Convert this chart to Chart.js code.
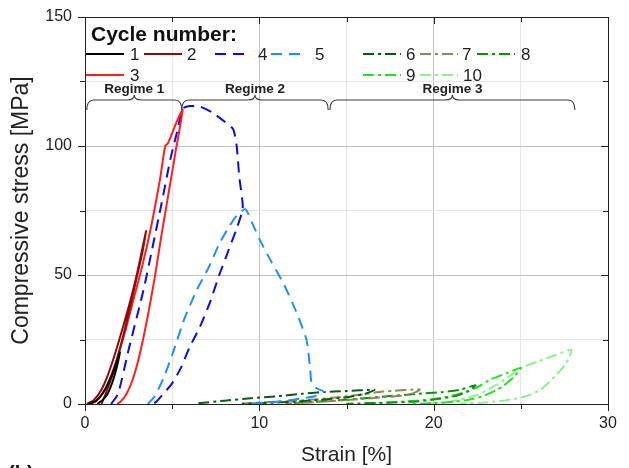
<!DOCTYPE html>
<html><head><meta charset="utf-8">
<script src="https://cdn.jsdelivr.net/npm/chart.js@4.4.0/dist/chart.umd.min.js"></script>
<style>html,body{margin:0;padding:0;background:#fff;}#wrap{width:629px;height:468px;position:relative;}</style>
</head><body><div id="wrap"><canvas id="c" width="629" height="468"></canvas></div>
<script>
// ---------- data ----------
const cycleLabels = ['1','2','3','4','5','6','7','8','9','10'];
const legendTitle = 'Cycle number:';
const xTitle = 'Strain [%]';
const yTitle = 'Compressive stress [MPa]';
const xMajorTicks = [0, 10, 20, 30];
const yMajorTicks = [0, 50, 100, 150];
const regimeNames = ['Regime 1', 'Regime 2', 'Regime 3'];
const regimeStart = [0.1, 5.55, 14.05];
const regimeEnd = [5.55, 13.95, 28.1];
const panelLabel = '(b)';

const c1Strain = [0.2, 0.6, 1.0, 1.4, 1.7, 2.0, 1.85, 1.6, 1.3, 1.0, 0.7];
const c1Stress = [0, 1, 4, 9, 14, 20, 15, 9, 4, 1.5, 0];

const c2Strain = [0.1, 0.5, 0.9, 1.3, 1.7, 2.1, 2.6, 3.0, 3.5, 3.3, 2.9, 2.5, 2.1, 1.7, 1.3, 0.95];
const c2Stress = [0, 1.5, 5, 11, 19, 28, 40, 51, 67, 59, 47, 35, 24, 14, 6, 0];

const c3Strain = [0.3, 0.7, 1.1, 1.5, 1.9, 2.3, 2.8, 3.3, 3.8, 4.3, 4.6, 4.75, 5.0, 5.3, 5.6, 5.2, 4.8, 4.4, 4.0, 3.6, 3.2, 2.9, 2.6, 2.3, 2.05, 1.85];
const c3Stress = [0, 1.5, 5, 11, 19, 28, 41, 54, 69, 87, 100, 101, 105, 110, 114, 98, 82, 66, 49, 34, 21, 13, 7, 3, 1, 0];

const c4Strain = [1.5, 1.9, 2.5, 3.35, 3.85, 4.4, 4.9, 5.3, 5.6, 6.0, 6.6, 7.3, 8.0, 8.5, 8.7, 8.85, 9.05, 8.7, 8.2, 7.7, 7.2, 6.6, 6.0, 5.5, 5.0, 4.5, 4.1, 3.9];
const c4Stress = [0, 4, 21, 44, 60, 78, 95, 106, 114.5, 115.5, 115.3, 113, 109.5, 106.5, 100, 88, 76, 68, 59, 50, 40, 30, 22, 14, 8, 4, 1, 0];

const c5Strain = [3.6, 4.0, 4.5, 5.0, 5.7, 6.4, 7.1, 7.7, 8.2, 8.7, 9.2, 9.6, 10.0, 10.7, 11.4, 12.1, 12.7, 12.9, 13.0, 13.3, 13.7, 13.2, 12.4, 11.5, 10.5, 9.5];
const c5Stress = [0, 3, 10, 19, 33, 44, 53, 62, 68, 73, 75.5, 70, 64, 55, 46.5, 36, 25, 15, 8, 6, 4.8, 3, 2.2, 1.2, 0.6, 0.2];

const c6Strain = [6.5, 8.0, 9.5, 11.0, 12.5, 13.5, 15.0, 16.6, 16.0, 15.0, 13.5, 12.0, 10.5, 9.0];
const c6Stress = [0.3, 1.3, 2.2, 3.0, 4.0, 4.6, 5.0, 5.5, 3.8, 2.6, 1.6, 0.9, 0.4, 0.1];

const c7Strain = [9.0, 11.0, 12.9, 14.8, 17.1, 19.2, 18.6, 17.5, 16.0, 14.5, 13.0, 11.5];
const c7Stress = [0.2, 0.9, 1.6, 2.8, 4.8, 5.6, 3.6, 2.8, 2.0, 1.3, 0.6, 0.2];

const c8Strain = [12.0, 14.5, 17.0, 19.0, 20.5, 21.5, 22.4, 22.0, 21.3, 20.3, 19.0, 17.0, 15.0];
const c8Stress = [0.4, 1.4, 2.8, 3.9, 4.6, 5.5, 7.3, 5.0, 3.2, 2.0, 1.0, 0.4, 0.1];

const c9Strain = [16.0, 18.0, 19.5, 20.4, 21.5, 22.5, 23.2, 24.2, 25.0, 24.6, 24.0, 23.6, 22.8, 22.0, 21.3, 20.0, 18.5];
const c9Stress = [0.2, 0.8, 1.6, 2.3, 4.0, 6.5, 9.3, 12.0, 14.0, 10.5, 7.0, 5.4, 3.0, 1.6, 1.0, 0.3, 0];

const c10Strain = [19.5, 21.0, 22.5, 23.5, 24.3, 25.0, 26.0, 27.0, 27.9, 27.6, 27.0, 26.1, 25.2, 24.2, 23.0, 21.5];
const c10Stress = [0.2, 1.0, 3.5, 7.0, 10.5, 14.0, 16.5, 19.0, 21.0, 15.8, 11.0, 5.4, 2.8, 1.5, 0.6, 0.2];

// ---------- styling ----------
const strains = [c1Strain, c2Strain, c3Strain, c4Strain, c5Strain, c6Strain, c7Strain, c8Strain, c9Strain, c10Strain];
const stresses = [c1Stress, c2Stress, c3Stress, c4Stress, c5Stress, c6Stress, c7Stress, c8Stress, c9Stress, c10Stress];
const colors = ['#000000', '#8e0b0b', '#ff1f1f', '#0a0aee', '#1e8fff', '#0b5c0b', '#8f8758', '#0c920c', '#26e026', '#8ff08f'];
const DASH = [11, 7], DOT = [11, 4, 3, 4];
const dashes = [[], [], [], DASH, DASH, DOT, DOT, DOT, DOT, DOT];
const FONT = "'Liberation Sans', Arial, sans-serif";

const datasets = cycleLabels.map((lab, i) => ({
  label: lab,
  data: strains[i].map((x, k) => ({x: x, y: stresses[i][k]})),
  showLine: true, pointRadius: 0, borderWidth: 2, borderColor: colors[i],
  borderDash: dashes[i], tension: 0.2, fill: false
}));

const decor = {
  id: 'decor',
  afterDraw(chart) {
    const ctx = chart.ctx, xs = chart.scales.x, ys = chart.scales.y, a = chart.chartArea;
    ctx.save();
    // frame
    ctx.strokeStyle = '#222'; ctx.lineWidth = 1; ctx.setLineDash([]);
    ctx.beginPath();
    ctx.moveTo(a.left + 0.5, a.top + 0.5); ctx.lineTo(a.right + 0.5, a.top + 0.5); ctx.lineTo(a.right + 0.5, a.bottom + 0.5);
    ctx.stroke();
    // ticks
    ctx.beginPath();
    for (let v = 0; v <= 30; v += 5) {
      const px = Math.round(xs.getPixelForValue(v)) + 0.5;
      const L = xMajorTicks.includes(v) ? 7 : 5;
      ctx.moveTo(px, a.bottom); ctx.lineTo(px, a.bottom + L);
      ctx.moveTo(px, a.top); ctx.lineTo(px, a.top + L);
    }
    for (let v = 0; v <= 150; v += 25) {
      const py = Math.round(ys.getPixelForValue(v)) + 0.5;
      const L = yMajorTicks.includes(v) ? 7 : 5;
      ctx.moveTo(a.left, py); ctx.lineTo(a.left - L, py);
      ctx.moveTo(a.right, py); ctx.lineTo(a.right - L, py);
    }
    ctx.stroke();

    // regime braces
    ctx.strokeStyle = '#3a3a3a'; ctx.lineWidth = 1.2;
    const yTop = 100, yEnd = 110, yPeak = 95, r = 7;
    regimeNames.forEach((name, i) => {
      const x0 = xs.getPixelForValue(regimeStart[i]);
      const x1 = xs.getPixelForValue(regimeEnd[i]);
      const xm = (x0 + x1) / 2;
      ctx.beginPath();
      ctx.moveTo(x0, yEnd);
      ctx.quadraticCurveTo(x0, yTop, x0 + r, yTop);
      ctx.lineTo(xm - r, yTop);
      ctx.quadraticCurveTo(xm, yTop, xm, yPeak);
      ctx.quadraticCurveTo(xm, yTop, xm + r, yTop);
      ctx.lineTo(x1 - r, yTop);
      ctx.quadraticCurveTo(x1, yTop, x1, yEnd);
      ctx.stroke();
      ctx.fillStyle = '#222'; ctx.font = 'bold 13.5px ' + FONT;
      ctx.textAlign = 'center'; ctx.textBaseline = 'alphabetic';
      ctx.fillText(name, xm, 93);
    });

    // legend
    ctx.fillStyle = '#111'; ctx.textAlign = 'left'; ctx.textBaseline = 'alphabetic';
    ctx.font = 'bold 21px ' + FONT;
    ctx.fillText(legendTitle, 91, 41);
    const legPos = [[86, 54], [144, 54], [86, 75], [215, 54], [271, 54], [363, 54], [420, 54], [477, 54], [363, 75], [420, 75]];
    const txtOff = [44, 43, 44, 43, 44, 43, 42, 44, 43, 43];
    ctx.font = '17px ' + FONT; ctx.textBaseline = 'middle';
    cycleLabels.forEach((lab, i) => {
      const [lx, ly] = legPos[i];
      const len = (i === 3 || i === 4) ? 30 : 38;
      ctx.strokeStyle = colors[i]; ctx.lineWidth = 2; ctx.setLineDash(dashes[i]);
      ctx.beginPath(); ctx.moveTo(lx, ly); ctx.lineTo(lx + len, ly); ctx.stroke();
      ctx.setLineDash([]);
      ctx.fillStyle = '#222';
      ctx.fillText(lab, lx + txtOff[i], ly + 1);
    });

    // panel label
    ctx.fillStyle = '#111'; ctx.font = 'bold 20px ' + FONT; ctx.textBaseline = 'alphabetic';
    ctx.fillText(panelLabel, 8, 480);
    ctx.restore();
  }
};

new Chart(document.getElementById('c'), {
  type: 'scatter',
  data: {datasets},
  options: {
    responsive: false, animation: false, devicePixelRatio: 1,
    layout: {padding: {left: 0, right: 21, top: 17, bottom: 0}},
    plugins: {legend: {display: false}, tooltip: {enabled: false}},
    scales: {
      x: {
        type: 'linear', min: 0, max: 30,
        ticks: {stepSize: 5, autoSkip: false, maxRotation: 0, padding: 10, color: '#222',
          font: {size: 16, family: FONT},
          callback: v => xMajorTicks.includes(v) ? String(v) : ''},
        grid: {drawTicks: false, color: c => (c.tick && xMajorTicks.includes(c.tick.value)) ? '#c2c2c2' : '#e6e6e6'},
        border: {color: '#222', width: 1},
        title: {display: true, text: xTitle, color: '#222', font: {size: 21, family: FONT}, padding: {top: 0, bottom: 0}},
        afterFit: s => { s.height = 64; s.paddingLeft = 0; s.paddingRight = 0; }
      },
      y: {
        type: 'linear', min: 0, max: 150,
        ticks: {stepSize: 25, autoSkip: false, padding: 13, color: '#222',
          font: {size: 16, family: FONT},
          callback: v => yMajorTicks.includes(v) ? String(v) : ''},
        grid: {drawTicks: false, color: c => (c.tick && yMajorTicks.includes(c.tick.value)) ? '#c2c2c2' : '#e6e6e6'},
        border: {color: '#222', width: 1},
        title: {display: true, text: yTitle, color: '#222', font: {size: 23, family: FONT}, padding: {top: 8, bottom: 0}},
        afterFit: s => { s.width = 85; s.paddingTop = 0; s.paddingBottom = 0; }
      }
    }
  },
  plugins: [decor]
});
</script></body></html>
